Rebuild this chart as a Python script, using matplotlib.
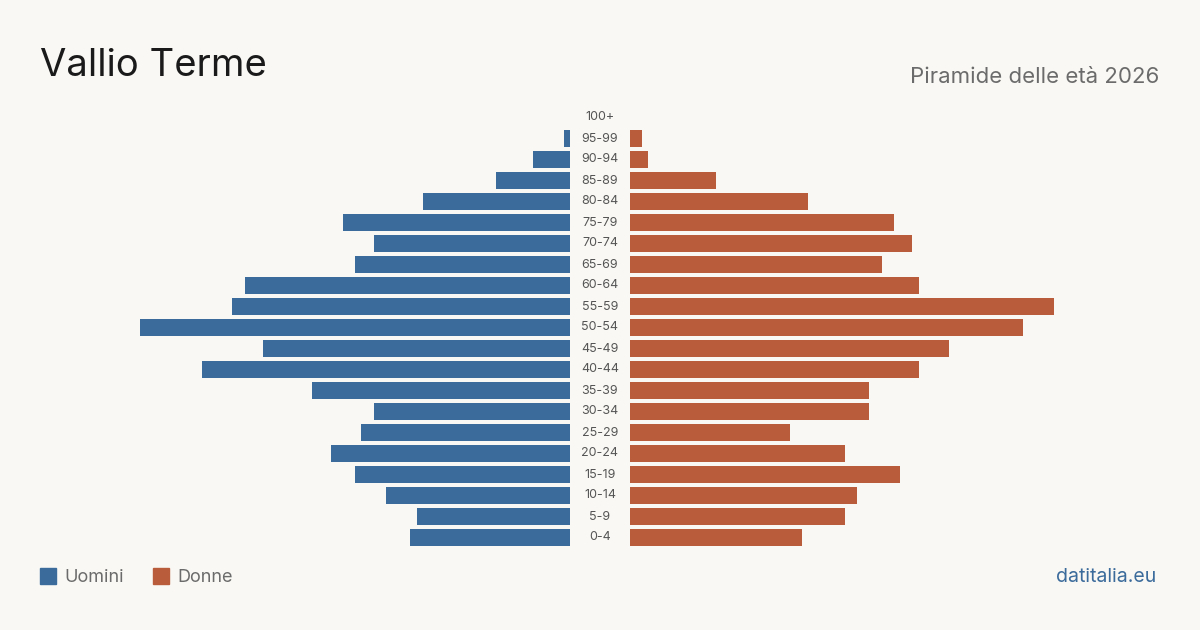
import numpy as np
import matplotlib.pyplot as plt
from matplotlib.patches import Rectangle

plt.rcParams['font.family'] = ['Inter', 'DejaVu Sans']

age_groups = ["0-4", "5-9", "10-14", "15-19", "20-24", "25-29", "30-34", "35-39",
              "40-44", "45-49", "50-54", "55-59", "60-64", "65-69", "70-74", "75-79",
              "80-84", "85-89", "90-94", "95-99", "100+"]
uomini = [26, 25, 30, 35, 39, 34, 32, 42, 60, 50, 70, 55, 53, 35, 32, 37, 24, 12, 6, 1, 0]
donne = [28, 35, 37, 44, 35, 26, 39, 39, 47, 52, 64, 69, 47, 41, 46, 43, 29, 14, 3, 2, 0]

BG = '#f9f8f4'
BLUE = '#3b6b9b'
RED = '#b95c3c'

W, H = 1200, 630
fig = plt.figure(figsize=(12, 6.3), dpi=100, facecolor=BG)

def px_ax(x0, x1, y0, y1):
    # pixel box (top-left origin) -> axes
    return fig.add_axes([x0 / W, 1 - y1 / H, (x1 - x0) / W, (y1 - y0) / H])

# rows: 100+ centred at y=117.5, 0-4 at y=537.5, step 21 px
top, bot = 117.5 - 10.5, 537.5 + 10.5
xmax = 530 / 6.14
y = np.arange(len(age_groups))

axl = px_ax(40, 570, top, bot)
axr = px_ax(630, 1160, top, bot)
for ax in (axl, axr):
    ax.set_facecolor('none')
    ax.set_ylim(-0.5, len(age_groups) - 0.5)
    for s in ax.spines.values():
        s.set_visible(False)
    ax.set_xticks([])
    ax.set_yticks([])

axl.barh(y, uomini, height=0.8, color=BLUE)
axl.set_xlim(xmax, 0)
axr.barh(y, donne, height=0.8, color=RED)
axr.set_xlim(0, xmax)

for i, lab in enumerate(age_groups):
    yc = 537.5 - i * 21
    fig.text(600 / W, 1 - yc / H, lab, ha='center', va='center',
             fontsize=9, color='#555555')

fig.text(40 / W, 1 - 66 / H, "Vallio Terme", fontsize=27.5, color='#1a1a1a',
         ha='left', va='center')
fig.text(1159 / W, 1 - 77 / H, "Piramide delle età 2026", fontsize=16,
         color='#6b6b6b', ha='right', va='center')

# legend
fig.patches.append(Rectangle((40 / W, 1 - 584 / H), 16 / W, 16 / H,
                             transform=fig.transFigure, color=BLUE))
fig.text(64 / W, 1 - 577 / H, "Uomini", fontsize=13, color='#6b6b6b',
         ha='left', va='center')
fig.patches.append(Rectangle((153 / W, 1 - 584 / H), 16 / W, 16 / H,
                             transform=fig.transFigure, color=RED))
fig.text(177 / W, 1 - 577 / H, "Donne", fontsize=13, color='#6b6b6b',
         ha='left', va='center')

fig.text(1156 / W, 1 - 577 / H, "datitalia.eu", fontsize=14, color=BLUE,
         ha='right', va='center')

fig.savefig('out.png', dpi=100, facecolor=BG)
